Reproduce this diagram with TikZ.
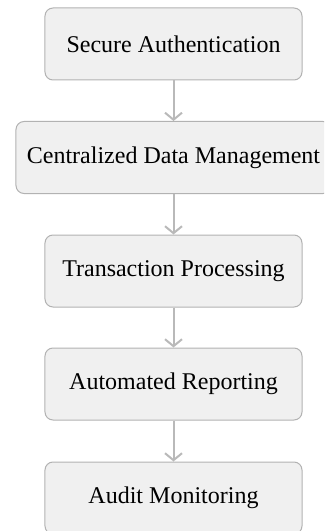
\documentclass[tikz,border=0pt]{standalone}
\usepackage{fontspec}
\setmainfont{Liberation Serif}
\usetikzlibrary{arrows.meta}
\definecolor{boxfill}{RGB}{240,240,240}
\definecolor{boxline}{RGB}{178,178,178}
\definecolor{flowline}{RGB}{185,185,185}
\tikzset{
  stage/.style={rectangle, rounded corners=8bp, draw=boxline, line width=1bp,
    fill=boxfill, minimum width=257bp, minimum height=72bp, inner sep=0pt,
    font=\fontsize{24bp}{28bp}\selectfont, text=black},
  flow/.style={draw=flowline, line width=2bp,
    -{Straight Barb[length=7bp, width=17bp, line width=2bp]}}
}
\begin{document}
\begin{tikzpicture}[x=1bp, y=-1bp]
  \useasboundingbox (0,0) rectangle (324,531);
  \begin{scope}
    \clip (0,0) rectangle (324,531);
    \node[stage] (auth) at (173.5,44) {Secure Authentication};
    \node[stage, minimum width=315bp] (data) at (173.5,157.5) {Centralized Data Management};
    \node[stage] (trans) at (173.5,271) {Transaction Processing};
    \node[stage] (report) at (173.5,384) {Automated Reporting};
    \node[stage] (audit) at (173.5,498) {Audit Monitoring};
    \draw[flow] (auth) -- (data);
    \draw[flow] (data) -- (trans);
    \draw[flow] (trans) -- (report);
    \draw[flow] (report) -- (audit);
  \end{scope}
\end{tikzpicture}
\end{document}
